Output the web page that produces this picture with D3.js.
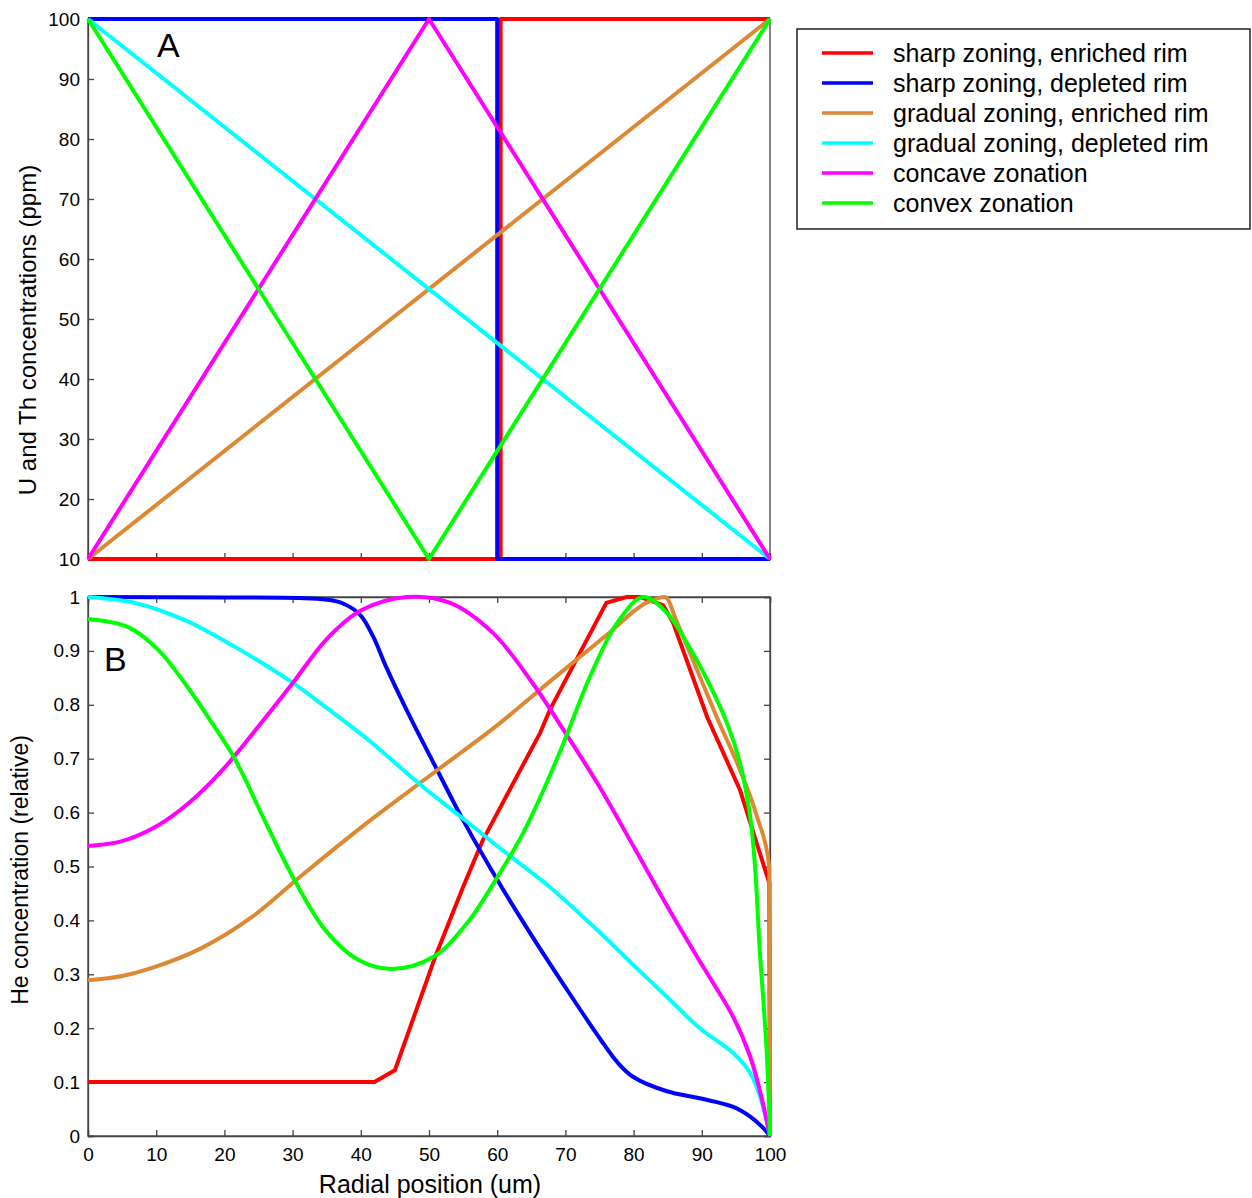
<!DOCTYPE html>
<html>
<head>
<meta charset="utf-8">
<script src="https://cdn.jsdelivr.net/npm/d3@7"></script>
<style>
  body { margin: 0; background: #fff; }
  svg text { font-family: "Liberation Sans", Arial, Helvetica, sans-serif; fill: #000; }
  .axis path, .axis line { stroke: #444; stroke-width: 1.3; }
  .axis text { font-size: 19px; }
</style>
</head>
<body>
<div id="chart"></div>
<script>
const width = 1252;
const height = 1198;

// legend / series
const seriesNames = [
    "sharp zoning, enriched rim",
    "sharp zoning, depleted rim",
    "gradual zoning, enriched rim",
    "gradual zoning, depleted rim",
    "concave zonation",
    "convex zonation"
];
const seriesColors = ["#ff0000", "#0000ff", "#dd8833", "#00ffff", "#ff00ff", "#00ff00"];

// ticks
const xTicks = [0, 10, 20, 30, 40, 50, 60, 70, 80, 90, 100];
const yTicksA = [10, 20, 30, 40, 50, 60, 70, 80, 90, 100];
const yTicksB = [0, 0.1, 0.2, 0.3, 0.4, 0.5, 0.6, 0.7, 0.8, 0.9, 1];

// Panel A: U and Th concentration profiles [radial position, ppm]
const uthSharpEnriched = [[0, 10], [60.5, 10], [60.5, 100], [100, 100]];
const uthSharpDepleted = [[0, 100], [60, 100], [60, 10], [100, 10]];
const uthGradualEnriched = [[0, 10], [100, 100]];
const uthGradualDepleted = [[0, 100], [100, 10]];
const uthConcave = [[0, 10], [50, 100], [100, 10]];
const uthConvex = [[0, 100], [50, 10], [100, 100]];

// Panel B: He concentration profiles [radial position, relative]
const heSharpEnriched = [[0, 0.1], [42, 0.1], [45, 0.122], [50.9, 0.332], [55, 0.462], [57.9, 0.549],
    [66.3, 0.748], [67.7, 0.79], [76, 0.989], [79, 1.0], [81, 1.0], [84.3, 0.985], [85.8, 0.952],
    [90.8, 0.777], [95.6, 0.642], [99.9, 0.469], [100, 0]];
const heSharpDepleted = [[0, 1.0], [20, 0.999], [31, 0.998], [35, 0.995], [37.4, 0.988], [39.9, 0.967],
    [41.8, 0.927], [43.8, 0.868], [47.2, 0.778], [51.2, 0.679], [55, 0.586], [60.4, 0.467],
    [65.2, 0.369], [70.2, 0.272], [75.1, 0.18], [77.6, 0.137], [79.9, 0.11], [84.9, 0.083],
    [89.7, 0.07], [94.6, 0.054], [97.1, 0.036], [99, 0.015], [100, 0]];
const heGradualEnriched = [[0, 0.289], [5, 0.297], [9.4, 0.312], [16.7, 0.349], [24, 0.406], [31.1, 0.481],
    [40.9, 0.581], [50.6, 0.673], [60.4, 0.766], [67.7, 0.843], [76.1, 0.93], [82, 0.99],
    [84.6, 1.0], [86.4, 0.952], [89.3, 0.865], [92.2, 0.777], [95.6, 0.679], [98.1, 0.592],
    [99.9, 0.5], [100, 0]];
const heGradualDepleted = [[0, 1.0], [6.9, 0.989], [14.2, 0.957], [21.6, 0.907], [29.9, 0.842],
    [34.8, 0.796], [40.9, 0.737], [49.1, 0.648], [55.5, 0.584], [60, 0.538], [67.7, 0.462], [75.1, 0.377],
    [79.9, 0.318], [84.9, 0.258], [89.7, 0.2], [94.6, 0.154], [97.1, 0.117], [98.5, 0.075], [100, 0]];
const heConcave = [[0, 0.538], [5, 0.547], [10, 0.574], [15, 0.62], [20, 0.683], [25, 0.76],
    [30, 0.84], [35, 0.922], [40, 0.975], [46.8, 1.0], [53.1, 0.989], [59.4, 0.933], [65.2, 0.84],
    [70, 0.748], [75, 0.648], [80, 0.537], [85, 0.425], [90, 0.318], [94.6, 0.221],
    [97.1, 0.147], [98.5, 0.085], [100, 0]];
const heConvex = [[0, 0.959], [5.9, 0.944], [10.3, 0.902], [14.2, 0.84], [18.2, 0.766], [21.6, 0.698],
    [26, 0.583], [30.4, 0.472], [34.8, 0.382], [39.6, 0.327], [44.6, 0.31], [50.6, 0.332],
    [55.6, 0.395], [60.4, 0.488], [63.8, 0.562], [66.3, 0.628], [69.6, 0.725], [73.6, 0.852],
    [77.6, 0.952], [81.4, 1.0], [84.9, 0.97], [87.8, 0.915], [90.8, 0.846], [93.7, 0.766],
    [95.6, 0.692], [97.1, 0.592], [97.8, 0.5], [98.5, 0.345], [99.5, 0.16], [100, 0]];

const profilesA = [uthSharpEnriched, uthSharpDepleted, uthGradualEnriched, uthGradualDepleted, uthConcave, uthConvex];
const profilesB = [heSharpEnriched, heSharpDepleted, heGradualEnriched, heGradualDepleted, heConcave, heConvex];
// red He curve is piecewise linear, orange has a sharp drop at the rim, the rest are smooth
const curvesB = [d3.curveLinear, d3.curveCatmullRom.alpha(0.5), d3.curveMonotoneX,
    d3.curveCatmullRom.alpha(0.5), d3.curveCatmullRom.alpha(0.5), d3.curveCatmullRom.alpha(0.5)];

const svg = d3.select("#chart")
    .append("svg")
    .attr("width", width)
    .attr("height", height);

const x = d3.scaleLinear().domain([0, 100]).range([88, 770]);
const yA = d3.scaleLinear().domain([10, 100]).range([559, 19]);
const yB = d3.scaleLinear().domain([0, 1]).range([1136, 597]);

// panel A frame + axes
svg.append("rect")
    .attr("x", 88).attr("y", 19)
    .attr("width", 682).attr("height", 540)
    .attr("fill", "none").attr("stroke", "#333").attr("stroke-width", 1.2);

svg.append("g")
    .attr("class", "axis")
    .attr("transform", "translate(88,0)")
    .call(d3.axisLeft(yA).tickValues(yTicksA).tickSize(-6).tickPadding(8).tickFormat(d3.format("d")));

svg.append("g")
    .attr("class", "axis")
    .attr("transform", "translate(0,559)")
    .call(d3.axisBottom(x).tickValues(xTicks).tickSize(-6).tickFormat(""));

// panel B frame + axes
svg.append("rect")
    .attr("x", 88).attr("y", 597)
    .attr("width", 682).attr("height", 539)
    .attr("fill", "none").attr("stroke", "#333").attr("stroke-width", 1.2);

svg.append("g")
    .attr("class", "axis")
    .attr("transform", "translate(88,0)")
    .call(d3.axisLeft(yB).tickValues(yTicksB).tickSize(-6).tickPadding(8).tickFormat(d => d === 1 || d === 0 ? d3.format("d")(d) : d3.format(".1f")(d)));

svg.append("g")
    .attr("class", "axis")
    .attr("transform", "translate(770,0)")
    .call(d3.axisRight(yB).tickValues(yTicksB).tickSize(-6).tickFormat(""));

svg.append("g")
    .attr("class", "axis")
    .attr("transform", "translate(0,1136)")
    .call(d3.axisBottom(x).tickValues(xTicks).tickSize(-6).tickPadding(12).tickFormat(d3.format("d")));

svg.append("g")
    .attr("class", "axis")
    .attr("transform", "translate(0,597)")
    .call(d3.axisTop(x).tickValues(xTicks).tickSize(-6).tickFormat(""));

svg.selectAll(".axis .domain").attr("stroke", "#555");

// lines
const lineA = d3.line().x(d => x(d[0])).y(d => yA(d[1]));

svg.append("g")
    .selectAll("path")
    .data(profilesA)
    .join("path")
    .attr("d", lineA)
    .attr("fill", "none")
    .attr("stroke", (d, i) => seriesColors[i])
    .attr("stroke-width", 4)
    .attr("stroke-linejoin", "round");

svg.append("g")
    .selectAll("path")
    .data(profilesB)
    .join("path")
    .attr("d", (d, i) => d3.line()
        .x(p => x(p[0]))
        .y(p => yB(p[1]))
        .curve(curvesB[i])(d))
    .attr("fill", "none")
    .attr("stroke", (d, i) => seriesColors[i])
    .attr("stroke-width", 4)
    .attr("stroke-linejoin", "round");

// panel letters
svg.append("text").attr("x", 157).attr("y", 57).style("font-size", "34px").text("A");
svg.append("text").attr("x", 104).attr("y", 671).style("font-size", "34px").text("B");

// axis titles
svg.append("text")
    .attr("transform", "translate(36,330) rotate(-90)")
    .attr("text-anchor", "middle")
    .style("font-size", "24px")
    .text("U and Th concentrations (ppm)");

svg.append("text")
    .attr("transform", "translate(28,870) rotate(-90)")
    .attr("text-anchor", "middle")
    .style("font-size", "23px")
    .text("He concentration (relative)");

svg.append("text")
    .attr("x", 430).attr("y", 1193)
    .attr("text-anchor", "middle")
    .style("font-size", "25px")
    .text("Radial position (um)");

// legend
const legend = svg.append("g");
legend.append("rect")
    .attr("x", 797).attr("y", 29)
    .attr("width", 453).attr("height", 200)
    .attr("fill", "#fff").attr("stroke", "#222").attr("stroke-width", 1.5);

const rows = legend.selectAll("g.row")
    .data(seriesNames)
    .join("g")
    .attr("class", "row")
    .attr("transform", (d, i) => `translate(0,${53 + i * 30})`);

rows.append("line")
    .attr("x1", 822).attr("x2", 873)
    .attr("stroke", (d, i) => seriesColors[i])
    .attr("stroke-width", 3.5);

rows.append("text")
    .attr("x", 893).attr("dy", "0.35em")
    .style("font-size", "25px")
    .text(d => d);
</script>
</body>
</html>
